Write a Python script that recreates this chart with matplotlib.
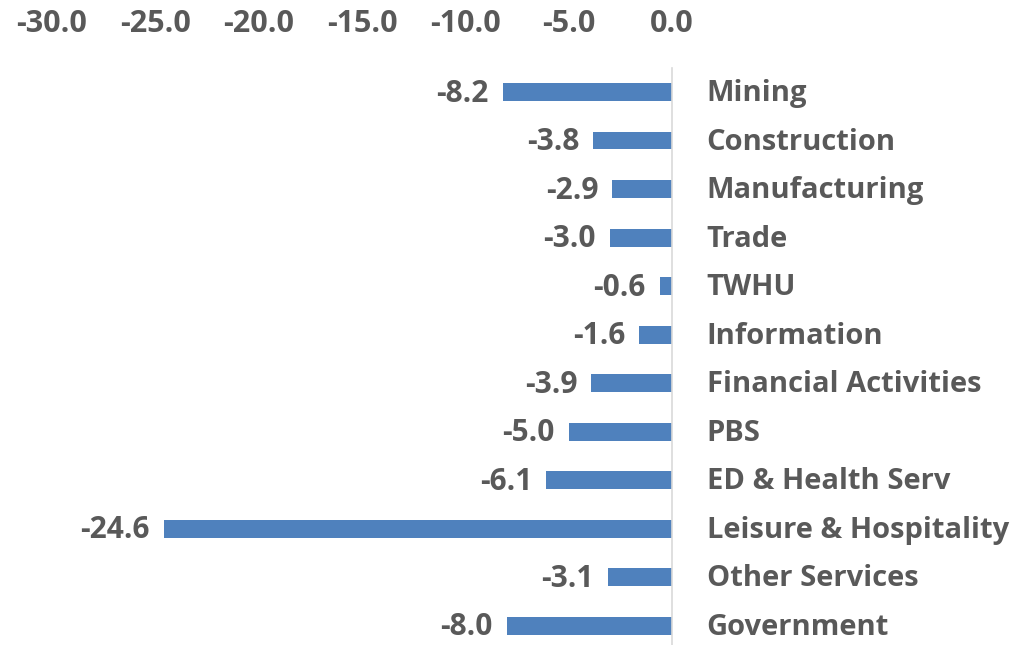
import matplotlib.pyplot as plt
import numpy as np

sectors = ['Mining', 'Construction', 'Manufacturing', 'Trade', 'TWHU', 'Information',
           'Financial Activities', 'PBS', 'ED & Health Serv', 'Leisure & Hospitality',
           'Other Services', 'Government']
changes = [-8.2, -3.8, -2.9, -3.0, -0.6, -1.6, -3.9, -5.0, -6.1, -24.6, -3.1, -8.0]
x_ticks = [-30.0, -25.0, -20.0, -15.0, -10.0, -5.0, 0.0]

text_color = '#595959'
bar_color = '#4f81bd'
plt.rcParams['font.family'] = ['Open Sans', 'DejaVu Sans']

fig = plt.figure(figsize=(10.13, 6.45), dpi=100)
ax = fig.add_axes([52 / 1013, 0, 620 / 1013, 1 - 67.75 / 645])

y = np.arange(len(sectors))
ax.barh(y, changes, height=0.37, color=bar_color, zorder=2)

ax.set_xlim(-30, 0)
ax.set_ylim(11.4, -0.5)
ax.set_xticks(x_ticks)
ax.set_xticklabels([f'{t:.1f}' for t in x_ticks])
ax.xaxis.tick_top()
ax.tick_params(axis='x', length=0, pad=21, labelsize=22, labelcolor=text_color)
ax.set_yticks([])
for lbl in ax.get_xticklabels():
    lbl.set_fontweight('bold')

for s in ['top', 'left', 'bottom']:
    ax.spines[s].set_visible(False)
ax.spines['right'].set_color('#d9d9d9')
ax.spines['right'].set_linewidth(1.2)

for yi, v, name in zip(y, changes, sectors):
    ax.annotate(f'{v:.1f}', (v, yi), xytext=(-10, -1.2), textcoords='offset points',
                ha='right', va='center', fontsize=21.5, fontweight='bold', color=text_color)
    ax.annotate(name, (0, yi), xytext=(25, -1.2), textcoords='offset points',
                ha='left', va='center', fontsize=21, fontweight='bold', color=text_color,
                annotation_clip=False)

fig.savefig('out.png', dpi=100)
